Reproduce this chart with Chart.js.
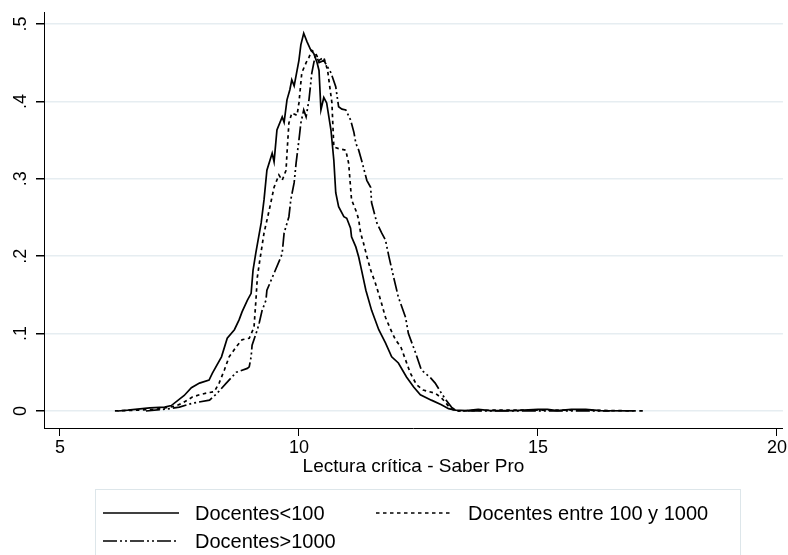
<!DOCTYPE html>
<html>
<head>
<meta charset="utf-8">
<script src="https://cdn.jsdelivr.net/npm/chart.js@4"></script>
<style>
  body { margin: 0; background: #fff; }
  #chart { display: block; }
</style>
</head>
<body>
<canvas id="chart" width="788" height="555"></canvas>
<script>
const xTicks = [5, 10, 15, 20];
const yTicks = [0, 0.1, 0.2, 0.3, 0.4, 0.5];
const yTickLabels = ["0", ".1", ".2", ".3", ".4", ".5"];
const xTitle = "Lectura crítica - Saber Pro";
const seriesNames = ["Docentes<100", "Docentes entre 100 y 1000", "Docentes>1000"];

// Docentes<100 (solid)
const lowX = [6.21, 6.42, 6.88, 7.19, 7.33, 7.6, 7.75, 7.92, 8.12, 8.19, 8.38, 8.5, 8.65, 8.75, 8.81, 8.92, 9.0, 9.04, 9.1, 9.21, 9.27, 9.33, 9.44, 9.48, 9.54, 9.65, 9.69, 9.75, 9.81, 9.85, 9.9, 10.0, 10.04, 10.1, 10.17, 10.25, 10.31, 10.38, 10.42, 10.46, 10.52, 10.58, 10.67, 10.73, 10.77, 10.83, 10.94, 11.0, 11.08, 11.1, 11.19, 11.25, 11.31, 11.4, 11.52, 11.67, 11.81, 11.94, 12.08, 12.25, 12.4, 12.54, 12.77, 12.98, 13.13, 13.27, 13.5, 13.75, 14.0, 14.5, 15.0, 15.2, 15.4, 15.7, 16.0, 16.3, 17.0];
const lowY = [0, 0.001, 0.004, 0.005, 0.007, 0.02, 0.03, 0.036, 0.04, 0.049, 0.07, 0.094, 0.105, 0.118, 0.128, 0.143, 0.152, 0.182, 0.205, 0.243, 0.273, 0.311, 0.333, 0.322, 0.363, 0.38, 0.373, 0.402, 0.415, 0.428, 0.42, 0.453, 0.473, 0.488, 0.477, 0.466, 0.462, 0.45, 0.44, 0.389, 0.405, 0.398, 0.363, 0.324, 0.282, 0.264, 0.251, 0.249, 0.236, 0.225, 0.212, 0.199, 0.182, 0.156, 0.13, 0.105, 0.088, 0.07, 0.062, 0.044, 0.031, 0.021, 0.014, 0.008, 0.003, 0.001, 0.0005, 0.002, 0.0005, 0.0005, 0.002, 0.002, 0.0005, 0.002, 0.002, 0.0005, 0];

// Docentes entre 100 y 1000 (dotted)
const midX = [6.15, 7.0, 7.4, 7.56, 7.77, 7.92, 8.06, 8.23, 8.33, 8.44, 8.54, 8.69, 8.81, 8.96, 9.06, 9.1, 9.13, 9.17, 9.27, 9.38, 9.48, 9.58, 9.65, 9.73, 9.75, 9.79, 9.85, 9.96, 10.0, 10.06, 10.15, 10.21, 10.27, 10.35, 10.42, 10.52, 10.6, 10.69, 10.73, 10.83, 10.98, 11.04, 11.08, 11.1, 11.21, 11.25, 11.29, 11.35, 11.42, 11.5, 11.6, 11.71, 11.81, 11.92, 12.02, 12.13, 12.23, 12.33, 12.46, 12.6, 12.85, 12.98, 13.08, 13.17, 13.3, 14.0, 15.0, 15.5, 16.0, 17.2];
const midY = [0, 0.002, 0.006, 0.01, 0.018, 0.021, 0.023, 0.025, 0.036, 0.053, 0.07, 0.083, 0.092, 0.094, 0.108, 0.143, 0.173, 0.19, 0.23, 0.26, 0.289, 0.305, 0.298, 0.311, 0.333, 0.372, 0.385, 0.382, 0.398, 0.437, 0.45, 0.457, 0.466, 0.462, 0.453, 0.457, 0.44, 0.398, 0.341, 0.339, 0.337, 0.32, 0.289, 0.273, 0.256, 0.247, 0.23, 0.217, 0.2, 0.182, 0.165, 0.143, 0.121, 0.105, 0.092, 0.083, 0.066, 0.049, 0.034, 0.027, 0.023, 0.017, 0.01, 0.003, 0, 0.001, 0.001, 0.001, 0.001, 0];

// Docentes>1000 (dash-dot)
const highX = [6.8, 7.3, 7.5, 7.77, 8.13, 8.29, 8.48, 8.69, 8.92, 8.96, 9.0, 9.02, 9.13, 9.17, 9.23, 9.31, 9.33, 9.48, 9.63, 9.65, 9.69, 9.79, 9.83, 9.9, 9.94, 10.0, 10.04, 10.1, 10.15, 10.21, 10.27, 10.35, 10.42, 10.52, 10.67, 10.77, 10.83, 10.9, 10.98, 11.08, 11.15, 11.19, 11.25, 11.31, 11.42, 11.5, 11.52, 11.63, 11.73, 11.81, 11.88, 11.98, 12.08, 12.23, 12.29, 12.44, 12.56, 12.75, 12.85, 12.98, 13.08, 13.19, 13.3, 16.5];
const highY = [0, 0.003, 0.005, 0.01, 0.014, 0.023, 0.036, 0.05, 0.055, 0.057, 0.07, 0.085, 0.105, 0.114, 0.13, 0.143, 0.156, 0.178, 0.2, 0.204, 0.23, 0.251, 0.273, 0.295, 0.32, 0.35, 0.372, 0.389, 0.38, 0.402, 0.437, 0.462, 0.45, 0.453, 0.437, 0.419, 0.393, 0.39, 0.389, 0.376, 0.36, 0.346, 0.337, 0.324, 0.298, 0.289, 0.269, 0.243, 0.23, 0.221, 0.2, 0.173, 0.147, 0.121, 0.1, 0.075, 0.053, 0.043, 0.036, 0.023, 0.014, 0.005, 0, 0];

const FONT = "'Liberation Sans', Arial, sans-serif";

function pairs(xs, ys) {
  return xs.map((x, i) => ({ x: x, y: ys[i] }));
}

function makeSet(name, xs, ys, dash) {
  return {
    label: name,
    data: pairs(xs, ys),
    borderColor: "#000",
    borderWidth: 1.7,
    borderDash: dash,
    pointRadius: 0,
    fill: false,
    tension: 0,
  };
}

// y labels are rotated like in the original, drawn by hand
const yLabelPlugin = {
  id: "yLabels",
  afterDraw(chart) {
    const ctx = chart.ctx;
    const y = chart.scales.y;
    ctx.save();
    ctx.fillStyle = "#000";
    ctx.font = "18px " + FONT;
    ctx.textAlign = "center";
    ctx.textBaseline = "middle";
    yTicks.forEach((v, i) => {
      ctx.save();
      ctx.translate(21, y.getPixelForValue(v));
      ctx.rotate(-Math.PI / 2);
      ctx.fillText(yTickLabels[i], 0, 0);
      ctx.restore();
    });
    ctx.restore();
  },
};

// legend box below the axis title, two columns
const legendPlugin = {
  id: "boxLegend",
  afterDraw(chart) {
    const ctx = chart.ctx;
    const sets = chart.data.datasets;
    const spots = [
      { x: 103, y: 513 },
      { x: 376, y: 513 },
      { x: 103, y: 541 },
    ];
    ctx.save();
    ctx.strokeStyle = "#dde6ea";
    ctx.lineWidth = 1;
    ctx.strokeRect(95.5, 489.5, 645, 80);
    ctx.font = "20px " + FONT;
    ctx.fillStyle = "#000";
    ctx.textBaseline = "middle";
    sets.forEach((ds, i) => {
      const s = spots[i];
      ctx.beginPath();
      ctx.setLineDash(ds.borderDash || []);
      ctx.lineWidth = ds.borderWidth;
      ctx.strokeStyle = ds.borderColor;
      ctx.moveTo(s.x, s.y);
      ctx.lineTo(s.x + 76, s.y);
      ctx.stroke();
      ctx.setLineDash([]);
      ctx.fillText(ds.label, s.x + 92, s.y + 1);
    });
    ctx.restore();
  },
};

new Chart(document.getElementById("chart"), {
  type: "line",
  data: {
    datasets: [
      makeSet(seriesNames[0], lowX, lowY, []),
      makeSet(seriesNames[1], midX, midY, [3.5, 3.5]),
      makeSet(seriesNames[2], highX, highY, [14, 3, 2, 3, 2, 3]),
    ],
  },
  options: {
    responsive: false,
    animation: false,
    layout: { padding: { top: 12, right: 2, left: 0, bottom: 0 } },
    plugins: {
      legend: { display: false },
      tooltip: { enabled: false },
    },
    scales: {
      x: {
        type: "linear",
        min: 4.667,
        max: 20.125,
        afterBuildTicks: (scale) => {
          scale.ticks = xTicks.map((v) => ({ value: v }));
        },
        afterFit: (scale) => {
          scale.height = 127;
        },
        border: { display: true, color: "#000", width: 1 },
        grid: {
          drawOnChartArea: false,
          drawTicks: true,
          tickLength: 8,
          tickColor: "#000",
        },
        ticks: {
          color: "#000",
          font: { family: FONT, size: 18 },
          padding: 1,
          maxRotation: 0,
          callback: (v) => String(v),
        },
        title: {
          display: true,
          text: xTitle,
          color: "#000",
          font: { family: FONT, size: 19 },
          padding: { top: 0, bottom: 77 },
        },
      },
      y: {
        type: "linear",
        min: -0.022,
        max: 0.5155,
        afterBuildTicks: (scale) => {
          scale.ticks = yTicks.map((v) => ({ value: v }));
        },
        afterFit: (scale) => {
          scale.width = 44;
        },
        border: { display: true, color: "#000", width: 1 },
        grid: {
          color: "#e6edf1",
          lineWidth: 1.5,
          drawTicks: true,
          tickLength: 8,
          tickColor: "#000",
        },
        ticks: { display: false },
      },
    },
  },
  plugins: [yLabelPlugin, legendPlugin],
});
</script>
</body>
</html>
